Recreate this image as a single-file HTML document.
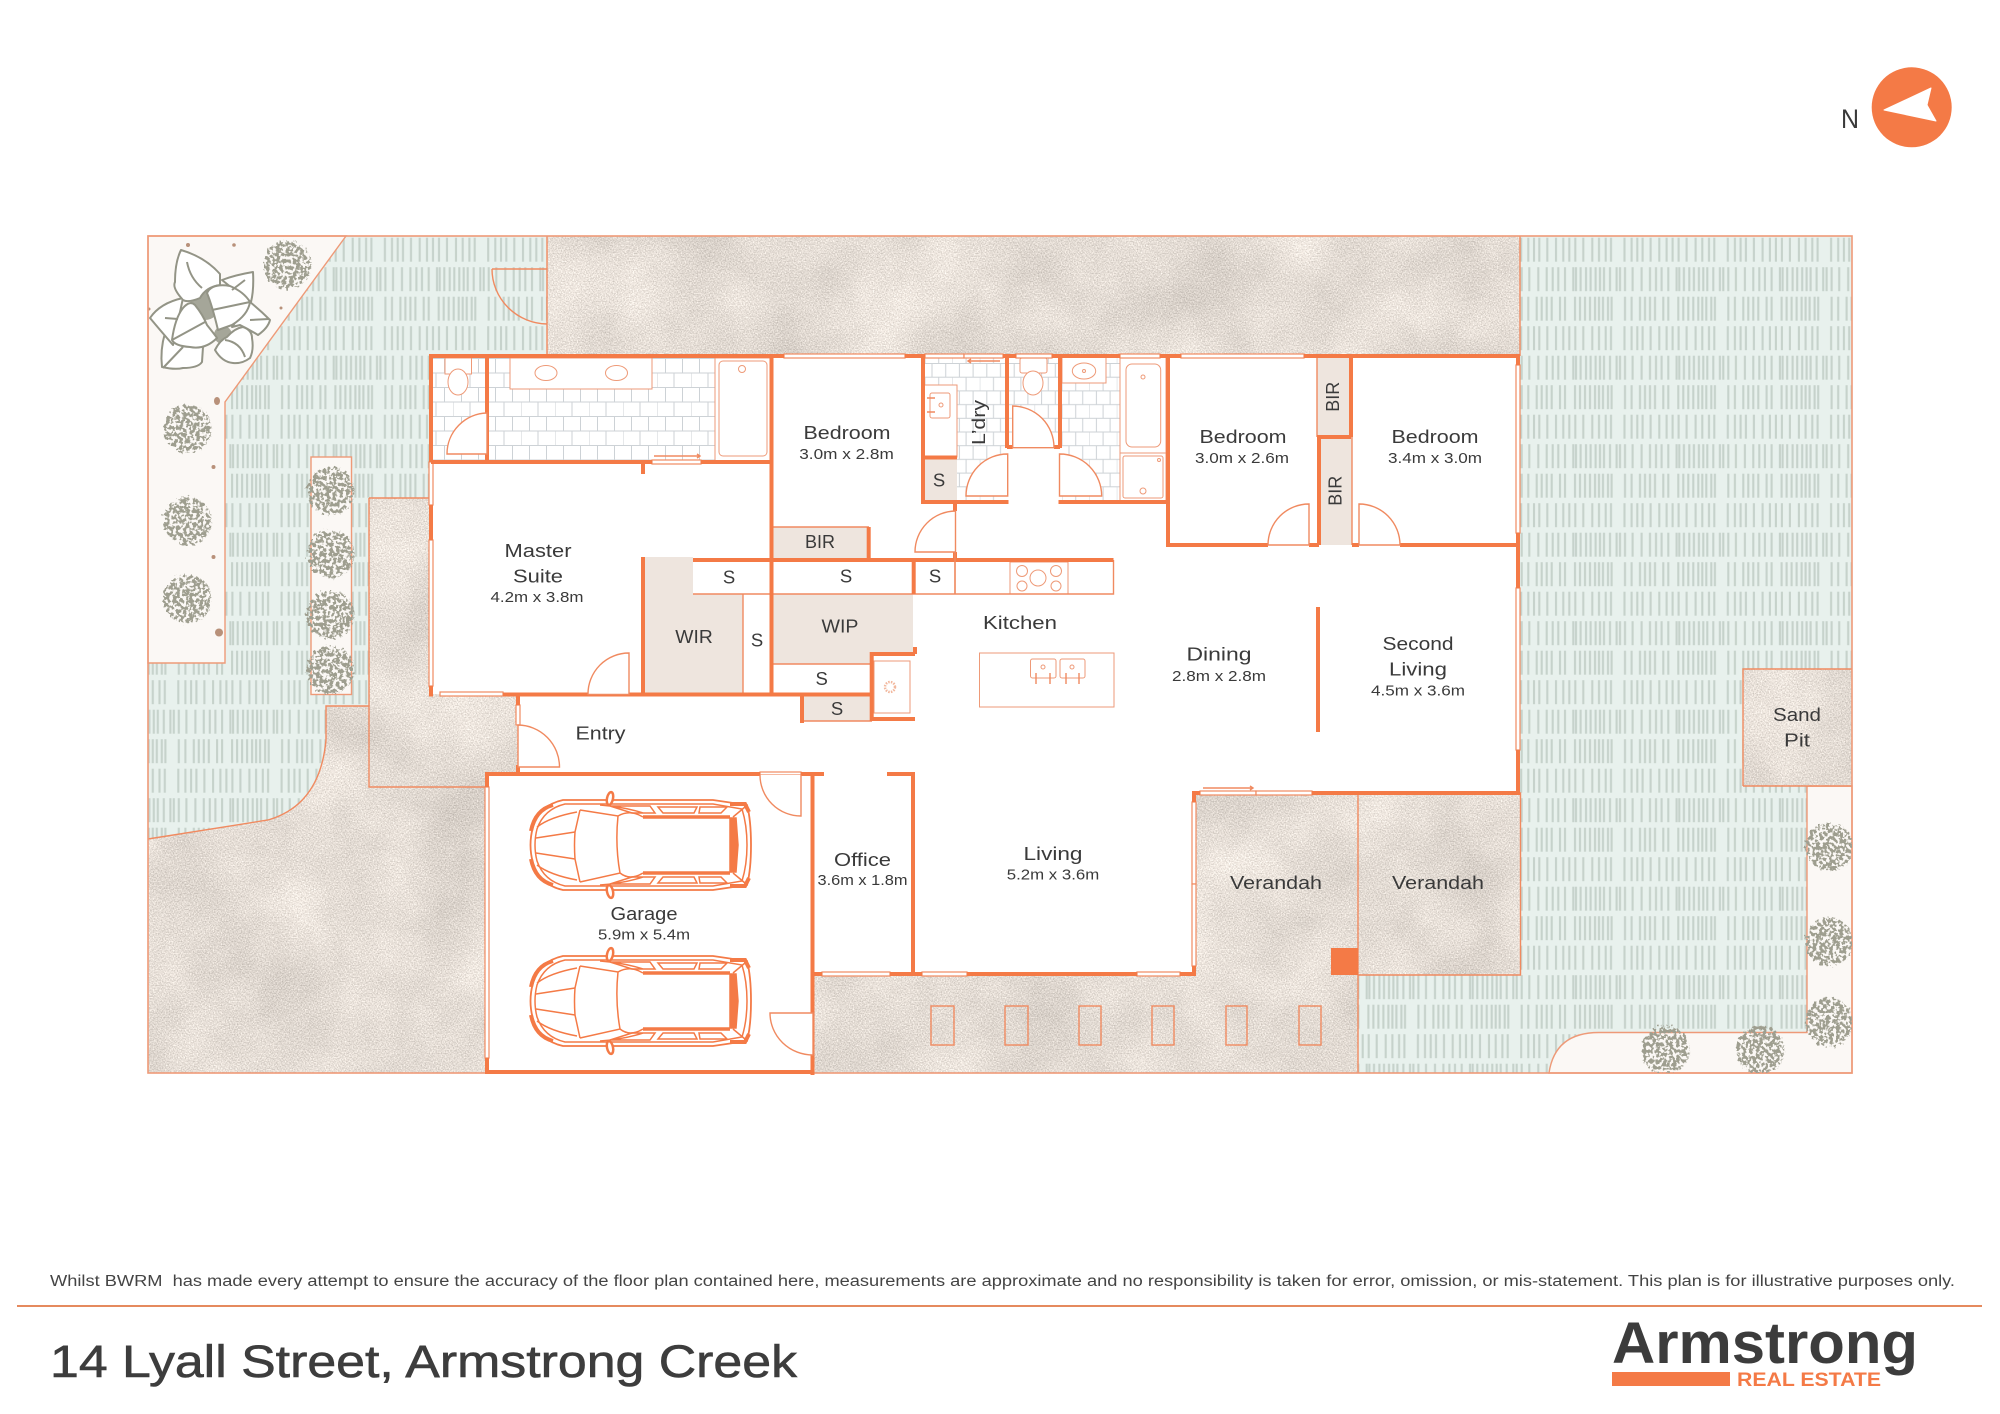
<!DOCTYPE html>
<html lang="en"><head><meta charset="utf-8"><title>14 Lyall Street, Armstrong Creek</title>
<style>html,body{margin:0;padding:0;background:#fff}svg{display:block}
text{font-family:"Liberation Sans",sans-serif;fill:#3a3a3a;text-anchor:middle;font-size:18.5px}
.s{font-size:14.5px}
.w{fill:none;stroke:#f47a46;stroke-width:4}
.n{fill:none;stroke:#f08a60;stroke-width:1.4}
.g{fill:#fff;stroke:#f08a60;stroke-width:1.2}
.f{fill:#fff;stroke:#ee9a78;stroke-width:1}
.b{fill:#eee5de}
</style></head><body>
<svg xmlns="http://www.w3.org/2000/svg" width="2000" height="1414" viewBox="0 0 2000 1414">
<defs>
<pattern id="grass" patternUnits="userSpaceOnUse" x="1623.3" y="236.7" width="103.3" height="88.5">
<rect width="103.3" height="88.5" fill="#e8f1ed"/>
<path fill="none" stroke="#c6d2cb" stroke-width="2.1" d="M1.2 1v24M8.3 1v24M14 1v24M19.3 1v24M27.3 1v24M36 1v24M43.3 1v24M49.3 1v24M55.3 1v24M63.3 1v24M72.3 1v24M79 1v24M85.7 1v24M91 1v24
M1.7 30.5v24M9.3 30.5v24M18.3 30.5v24M26.7 30.5v24M32.7 30.5v24M38.3 30.5v24M45 30.5v24M53.3 30.5v24M56 30.5v24M60.6 30.5v24M66 30.5v24M70.6 30.5v24M75.6 30.5v24M80 30.5v24M84 30.5v24M90 30.5v24M96.6 30.5v24M100 30.5v24
M1.7 60v24M8.3 60v24M16.7 60v24M21.7 60v24M26.7 60v24M31.7 60v24M40 60v24M45 60v24M55 60v24M60 60v24M65 60v24M70 60v24M75 60v24M79 60v24M83 60v24M88 60v24M91.6 60v24"/>
</pattern>
<pattern id="tile" patternUnits="userSpaceOnUse" x="487" y="358" width="34" height="29">
<rect width="34" height="29" fill="#fff"/>
<path fill="none" stroke="#cdd2d6" stroke-width="1" d="M0 .5H34M0 15H34M8.5 0V14.5M25.5 0V14.5M0 14.5V29M17 14.5V29"/>
</pattern>
<pattern id="tile2" patternUnits="userSpaceOnUse" x="925" y="363" width="27.4" height="27.4">
<rect width="27.4" height="27.4" fill="#fff"/>
<path fill="none" stroke="#cdd2d6" stroke-width="1" d="M0 .5H27.4M0 14.2H27.4M7 0V13.7M20.7 0V13.7M0 13.7V27.4M13.7 13.7V27.4"/>
</pattern>
<filter id="c" x="148" y="236" width="1704" height="837" filterUnits="userSpaceOnUse" color-interpolation-filters="sRGB">
<feTurbulence type="fractalNoise" baseFrequency=".012" numOctaves="4" seed="4"/>
<feColorMatrix values="1 0 0 0 0 1 0 0 0 0 1 0 0 0 0 0 0 0 0 1" result="a"/>
<feTurbulence type="fractalNoise" baseFrequency=".75" numOctaves="2" seed="7"/>
<feColorMatrix values="1 0 0 0 0 1 0 0 0 0 1 0 0 0 0 0 0 0 0 1" result="b"/>
<feComposite in="a" in2="b" operator="arithmetic" k2=".3" k3=".7"/>
<feColorMatrix values=".55 0 0 0 .62 .55 0 0 0 .59 .55 0 0 0 .56 0 0 0 0 1"/>
<feComposite in2="SourceGraphic" operator="in"/>
</filter>
<filter id="leaf" x="148" y="236" width="1704" height="837" filterUnits="userSpaceOnUse" color-interpolation-filters="sRGB">
<feTurbulence type="fractalNoise" baseFrequency=".3" numOctaves="2" seed="3" result="n"/>
<feDisplacementMap in="SourceGraphic" in2="n" scale="9" xChannelSelector="R" yChannelSelector="G" result="d"/>
<feColorMatrix in="n" values="0 0 0 0 .62 0 0 0 0 .62 0 0 0 0 .56 12 0 0 0 -5.3" result="m"/>
<feComposite in="m" in2="d" operator="in"/>
</filter>
<g id="car" fill="none" stroke="#f47a46" stroke-width="1.5">
<path stroke-width="1.8" d="M563-45H713L747-40Q751-25 751 0Q751 25 747 40L713 45H563Q540 40 533 18Q528 0 533-18Q540-40 563-45Z"/>
<path d="M565-41H713L742-36Q747-20 747 0Q747 20 742 36L713 41H565Q544 36 537 16Q533 0 537-16Q544-36 565-41Z"/>
<path d="M580-35L618-29Q630-36 643-28M580 37L620 28Q630 36 643 28M580-35L575-13Q574 0 575 14L580 37M618-29Q615 0 620 28"/>
<path stroke-width="3.6" d="M643-28H730M643 28H730"/>
<path d="M730-27L736-27L738 0L736 27L730 27Z" fill="#f47a46"/>
<path d="M536-7L575-13M536 8L575 14M537-18Q550-28 577-33M537 20Q550 30 577 35"/>
<path d="M600-40Q625-38 643-32M610-39H650L655-32H632ZM658-38H697L694-32H663ZM700-38H727L721-32H699ZM610 39H650L655 32H632ZM658 38H697L694 32H663ZM700 38H727L721 32H699ZM600 40Q625 38 643 32"/>
<path stroke-width="4" d="M531-14Q535-35 553-40M531 14Q535 35 553 40M730-41H745L749-33M730 41H745L749 33"/>
<path d="M733-28L745-38M733 28L745 38"/>
<ellipse cx="610" cy="-46.500" rx="3" ry="6.500" fill="#fff" stroke-width="2.500" transform="rotate(12 610 -46.500)"/><ellipse cx="610" cy="46.500" rx="3" ry="6.500" fill="#fff" stroke-width="2.500" transform="rotate(-12 610 46.500)"/>
</g>
</defs>
<rect width="2000" height="1414" fill="#fff"/>

<!-- site -->
<rect x="148" y="236" width="1704" height="837" fill="url(#grass)"/>
<path d="M148 236H346L225 402V663H148Z" fill="#fbf8f5" stroke="#ee9a78" stroke-width="1.4"/>
<rect x="311" y="457" width="40.5" height="237.5" fill="#fbf8f5" stroke="#ee9a78" stroke-width="1.4"/>
<path d="M1852 786H1807V1032.500H1600Q1555 1032 1549 1073H1852Z" fill="#fbf8f5" stroke="#ee9a78" stroke-width="1.4"/>
<g fill="#b8917a"><circle cx="188" cy="245" r="2"/><circle cx="234" cy="245" r="1.800"/><circle cx="281" cy="308" r="1.500"/><circle cx="149" cy="309" r="1.500"/><ellipse cx="217" cy="401" rx="3" ry="4"/><circle cx="213.500" cy="467" r="2"/><circle cx="213.500" cy="557" r="2"/><circle cx="219" cy="632.500" r="4"/></g>

<!-- concrete -->
<g filter="url(#c)">
<path d="M547 236H1520V358H547ZM1194 793H1520.500V975H1358V1073H812V975H1194ZM1743 669H1852V786H1743ZM148 1073V839L268 820Q320 805 326 740V706H369V498H431V694H518V773H487V1073Z" fill="#000"/>
</g>
<path class="n" d="M547 236V356M1520 236V356M1194 793H1520.500V975H1358M1358 793V1073M1743 786V669H1852M1743 786H1852M148 839L268 820Q320 805 326 740V706H369M369 498H431M369 498V787H487"/>
<rect x="148" y="236" width="1704" height="837" fill="none" stroke="#ee9a78" stroke-width="1.6"/>
<g><rect x="931" y="1006" width="23" height="39" class="n"/><rect x="1005" y="1006" width="23" height="39" class="n"/><rect x="1079" y="1006" width="22" height="39" class="n"/><rect x="1152" y="1006" width="22" height="39" class="n"/><rect x="1226" y="1006" width="21" height="39" class="n"/><rect x="1299" y="1006" width="22" height="39" class="n"/></g>

<!-- gate -->
<path class="n" d="M547 269H492M492 269A56 55 0 0 0 547 324"/>

<!-- plants -->
<g filter="url(#leaf)" fill="#000">
<circle cx="288" cy="265" r="24"/><circle cx="188" cy="429" r="24"/><circle cx="188" cy="521" r="24"/><circle cx="188" cy="599" r="24"/>
<circle cx="331" cy="491" r="24"/><circle cx="331" cy="554" r="24"/><circle cx="331" cy="615" r="24"/><circle cx="331" cy="670" r="24"/>
<circle cx="1830" cy="847" r="24"/><circle cx="1830" cy="942" r="24"/><circle cx="1830" cy="1022" r="24"/><circle cx="1666" cy="1050" r="24"/><circle cx="1761" cy="1050" r="24"/>
</g>
<circle cx="205" cy="305" r="15" fill="#a5a699"/><circle cx="223" cy="335" r="9" fill="#a5a699"/>
<g fill="#fff" stroke="#939486" stroke-width="2" stroke-linejoin="round">
<path d="M165 333Q160 350 162 367Q175 370 183 368Q198 368 202 362L203 347L172 340Z"/>
<path d="M150 318Q160 303 183 298L173 345Q160 330 150 318Z"/>
<path d="M222 280Q235 275 253 272Q254 290 251 302L232 288Z"/>
<path d="M270 320Q260 310 250 302L232 327L240 325Q250 330 258 335Q268 328 270 320Z"/>
<path d="M215 350Q220 340 227 337Q235 328 243 327Q252 330 252 338Q254 350 250 358Q242 364 233 363Q222 362 215 350Z"/>
<path d="M181 250Q205 257 220 274L220 285Q206 287 200 298Q188 303 183 300Q172 288 175 282Q175 262 181 250Z"/>
<path d="M207 293Q212 283 230 286Q244 292 250 302Q248 315 232 325L218 330Q212 305 207 293Z"/>
<path d="M172 340Q175 318 183 308Q190 300 195 305Q203 315 207 325Q215 335 217 338Q205 350 190 347Q175 346 172 340Z"/>
<path fill="none" d="M187 262Q190 278 202 288M172 340L205 322M163 368L183 347M232 290L245 280M250 320L269 319M225 340Q240 342 245 357M165 318L178 319M212 310L250 302"/>
</g>

<!-- house -->
<path d="M431 356H1518V793H1194V975H812V1072H487V773H518V694H431Z" fill="#fff"/>

<!-- tiles and fills -->
<rect x="433" y="358" width="54" height="103" fill="url(#tile)"/>
<rect x="487" y="358" width="228" height="103" fill="url(#tile)"/>
<rect x="925" y="358" width="82" height="143" fill="url(#tile2)"/>
<rect x="1009" y="358" width="50" height="90" fill="url(#tile2)"/>
<rect x="1061" y="358" width="59" height="143" fill="url(#tile2)"/>
<path class="b" d="M643 557H693V594H743V694H643Z"/>
<rect class="b" x="771.500" y="527" width="97" height="33"/>
<path class="b" d="M771.500 594H913V654H872V664H771.500Z"/>
<rect class="b" x="802" y="695" width="70" height="26"/>
<rect class="b" x="925" y="458" width="32" height="45"/>
<rect class="b" x="1317" y="358" width="34" height="79"/>
<rect class="b" x="1319" y="437" width="33" height="108"/>

<!-- thin fixtures -->
<rect class="f" x="510" y="358" width="142" height="31"/>
<ellipse class="f" cx="546" cy="373" rx="11" ry="7.500"/><ellipse class="f" cx="616.500" cy="373" rx="11" ry="7.500"/>
<rect class="f" x="715" y="358" width="56" height="103"/><rect class="f" x="719" y="361" width="48" height="95" rx="4"/>
<circle class="f" cx="742" cy="369" r="3.500"/>
<rect class="f" x="445" y="358" width="26.500" height="16"/><ellipse class="f" cx="458" cy="382" rx="10" ry="13"/>
<rect class="f" x="1062" y="357" width="44" height="26"/><ellipse class="f" cx="1084" cy="371" rx="11.700" ry="8"/><circle class="f" cx="1084" cy="371" r="1.500"/>
<rect class="f" x="1120" y="357" width="46" height="96"/><rect class="f" x="1126" y="364" width="34.700" height="83" rx="6"/><circle class="f" cx="1143" cy="377" r="2"/>
<rect class="f" x="1120" y="453" width="46" height="48"/><rect class="f" x="1123" y="456" width="40" height="42" rx="2"/><circle class="f" cx="1143" cy="491" r="3"/><circle class="f" cx="1159" cy="460" r="1.500"/>
<rect class="f" x="924" y="385" width="33" height="72"/><rect class="f" x="930" y="393" width="20" height="25" rx="2"/><circle class="f" cx="941" cy="405" r="2"/><path class="n" d="M927 398H935M927 412H935"/>
<rect class="f" x="1020" y="358" width="27" height="15" rx="2"/><ellipse class="f" cx="1033" cy="383" rx="10" ry="12"/>
<rect class="f" x="979.500" y="653" width="134.500" height="54"/>
<rect class="f" x="1030.500" y="659" width="25.500" height="19" rx="2"/><rect class="f" x="1060" y="659" width="25" height="19" rx="2"/>
<circle class="f" cx="1043" cy="667" r="2"/><circle class="f" cx="1072" cy="667" r="2"/><path class="n" d="M1036 673V684M1050 673V684M1066 673V684M1079 673V684"/>
<rect class="f" x="1010" y="562" width="58" height="32"/>
<circle class="f" cx="1038" cy="578" r="8"/><circle class="f" cx="1022" cy="571" r="5.500"/><circle class="f" cx="1056" cy="571" r="5.500"/><circle class="f" cx="1022" cy="586" r="5"/><circle class="f" cx="1056" cy="586" r="5"/>
<rect class="f" x="874" y="661" width="36" height="52"/><circle cx="890" cy="687" r="5" fill="none" stroke="#f2b89e" stroke-width="2.500" stroke-dasharray="1.500 1.200"/>
<path class="n" d="M693 594H1113.500V560M955 560V594M743 594V694M771.500 664H872M802 721H872M771.500 527H869M1317 356V437M1352 437V545"/>

<!-- windows -->
<g>
<rect x="784" y="354" width="121" height="4" class="g"/><rect x="925" y="354" width="39" height="4" class="g"/><rect x="964" y="354" width="39" height="4" class="g"/><rect x="1016" y="354" width="36" height="4" class="g"/><rect x="1120" y="354" width="40" height="4" class="g"/><rect x="1181" y="354" width="123" height="4" class="g"/>
<rect x="652" y="460" width="49" height="4" class="g"/>
<rect x="429" y="462" width="4" height="43" class="g"/><rect x="429" y="540" width="4" height="146" class="g"/>
<rect x="440" y="692" width="63" height="4" class="g"/>
<rect x="516" y="705" width="4" height="20" class="g"/>
<rect x="1516" y="365" width="4" height="168" class="g"/><rect x="1516" y="588" width="4" height="162" class="g"/>
<rect x="1200" y="791" width="56" height="4" class="g"/><rect x="1256" y="791" width="56" height="4" class="g"/>
<rect x="1192" y="802" width="4" height="82" class="g"/><rect x="1192" y="884" width="4" height="82" class="g"/>
<rect x="1137" y="972" width="43" height="4" class="g"/><rect x="922" y="972" width="45" height="4" class="g"/><rect x="822" y="972" width="68" height="4" class="g"/>
<rect x="485" y="787" width="4" height="271" class="g"/>
<rect x="760" y="772" width="41" height="3" class="g"/>
</g>

<!-- walls -->
<path class="w" d="M431 356H784M905 356H925M1003 356H1016M1052 356H1120M1160 356H1181M1304 356H1520
M431 354V462M431 505V540M431 686V696.500M431 462H652M701 462H771.500M487 356V462M643 462V474
M771.500 356V694M643 557V696M693 560H1113.500M503 694.500H871M913.700 560V594M868.700 527V560
M923 356V503M923 457.500H957M921 502H1008.500M1007 356V448M1060 356V448M1058.500 502H1168M955 502V511M955 552V560M1007 447H1012.700M1054 447H1060
M1168 356V547M1168 545H1268M1309 545H1319M1352 545H1359M1400 545H1520
M1319 437V545M1351 356V437M1317 437H1351
M1518 356V365M1518 533V588M1518 750V795M1312 793H1518M1192 793H1200M1194 793V802M1194 966V975
M1318 607V732
M871.700 652V721M870 654H915M915 647V654M802 693V723M871 719H915
M518 694V705M518 765V775M486 774H760M801 774H824M887 774H915M913 772V976M812.500 774V1075M485 1072H814M487 772V787M487 1058V1074
M812 974H822M890 974H922M967 974H1137M1180 974H1196"/>
<rect x="1331" y="948" width="27" height="27" fill="#f47a46"/>

<!-- doors -->
<path class="n" d="M487 413A41 41 0 0 0 447 454H487ZM1007.700 454A41.500 42 0 0 0 966 496H1007.700ZM1059.500 454A42 42 0 0 1 1101.700 496H1059.500ZM1012.700 406A41.500 41.500 0 0 1 1054 447.700H1012.700ZM955.500 511A41 41 0 0 0 915 552H955.500ZM1309 504A41 41 0 0 0 1268 545H1309ZM1359 504A41 41 0 0 1 1400 545H1359ZM629 653A41 41 0 0 0 588 694.500H629ZM518 725A42 42 0 0 1 559.500 767H518ZM760 775A41 41 0 0 0 801 816V775M770 1013H813V1055A43 42 0 0 1 770 1013ZM955 552V594" style="fill:#fff"/>
<path class="n" stroke-width="1" d="M654 456H700M697 454L700 456L697 458M1000 361H968M971 359L968 361L971 363M1203 788H1253M1250 786L1253 788L1250 790"/>

<!-- cars -->
<use href="#car" y="845"/><use href="#car" y="1001"/>

<!-- labels -->
<text x="847" y="439" textLength="87" lengthAdjust="spacingAndGlyphs">Bedroom</text>
<text class="s" x="846.500" y="459" textLength="94.500" lengthAdjust="spacingAndGlyphs">3.0m x 2.8m</text>
<text x="1243" y="443" textLength="87" lengthAdjust="spacingAndGlyphs">Bedroom</text>
<text class="s" x="1242" y="463" textLength="94" lengthAdjust="spacingAndGlyphs">3.0m x 2.6m</text>
<text x="1435" y="443" textLength="87" lengthAdjust="spacingAndGlyphs">Bedroom</text>
<text class="s" x="1435" y="463" textLength="94" lengthAdjust="spacingAndGlyphs">3.4m x 3.0m</text>
<text transform="translate(1339 396.700) rotate(-90)" textLength="30" lengthAdjust="spacingAndGlyphs">BIR</text>
<text transform="translate(1341.500 490.700) rotate(-90)" textLength="30" lengthAdjust="spacingAndGlyphs">BIR</text>
<text transform="translate(985 422.500) rotate(-90)" textLength="45" lengthAdjust="spacingAndGlyphs">L’dry</text>
<text x="939" y="486.500">S</text>
<text x="820" y="548" textLength="30" lengthAdjust="spacingAndGlyphs">BIR</text>
<text x="846" y="582.700">S</text><text x="935" y="582.700">S</text>
<text x="840" y="632.700" textLength="37" lengthAdjust="spacingAndGlyphs">WIP</text>
<text x="821.700" y="685">S</text><text x="837" y="715">S</text>
<text x="1020" y="629" textLength="74" lengthAdjust="spacingAndGlyphs">Kitchen</text>
<text x="1219" y="660.700" textLength="65" lengthAdjust="spacingAndGlyphs">Dining</text>
<text class="s" x="1219" y="681" textLength="94" lengthAdjust="spacingAndGlyphs">2.8m x 2.8m</text>
<text x="1418" y="650" textLength="71" lengthAdjust="spacingAndGlyphs">Second</text>
<text x="1418" y="675.700" textLength="58" lengthAdjust="spacingAndGlyphs">Living</text>
<text class="s" x="1418" y="695.700" textLength="94" lengthAdjust="spacingAndGlyphs">4.5m x 3.6m</text>
<text x="538" y="556.800" textLength="67" lengthAdjust="spacingAndGlyphs">Master</text>
<text x="538" y="582.400" textLength="50" lengthAdjust="spacingAndGlyphs">Suite</text>
<text class="s" x="537" y="602" textLength="93" lengthAdjust="spacingAndGlyphs">4.2m x 3.8m</text>
<text x="694" y="643" textLength="37.500" lengthAdjust="spacingAndGlyphs">WIR</text>
<text x="729" y="583.600">S</text><text x="757" y="646.700">S</text>
<text x="600.500" y="739.700" textLength="50" lengthAdjust="spacingAndGlyphs">Entry</text>
<text x="644" y="920" textLength="67" lengthAdjust="spacingAndGlyphs">Garage</text>
<text class="s" x="644" y="939.300" textLength="92" lengthAdjust="spacingAndGlyphs">5.9m x 5.4m</text>
<text x="862.500" y="866" textLength="57" lengthAdjust="spacingAndGlyphs">Office</text>
<text class="s" x="862.500" y="885" textLength="90" lengthAdjust="spacingAndGlyphs">3.6m x 1.8m</text>
<text x="1053" y="860" textLength="59" lengthAdjust="spacingAndGlyphs">Living</text>
<text class="s" x="1053" y="879.300" textLength="92.500" lengthAdjust="spacingAndGlyphs">5.2m x 3.6m</text>
<text x="1276" y="889" textLength="92" lengthAdjust="spacingAndGlyphs">Verandah</text>
<text x="1438" y="889" textLength="92" lengthAdjust="spacingAndGlyphs">Verandah</text>
<text x="1797" y="721" textLength="48" lengthAdjust="spacingAndGlyphs">Sand</text>
<text x="1797" y="746.700" textLength="26" lengthAdjust="spacingAndGlyphs">Pit</text>

<!-- north -->
<circle cx="1911.700" cy="107.300" r="40" fill="#f47a46"/>
<path d="M1884 110L1931 88L1927 105L1936 121Z" fill="#fff" stroke="#fff" stroke-width="1" stroke-linejoin="round"/>
<text x="1850" y="128" style="font-size:27px" textLength="18" lengthAdjust="spacingAndGlyphs">N</text>

<!-- footer -->
<text x="50" y="1286" style="font-size:15.5px;text-anchor:start;fill:#444" textLength="1905" lengthAdjust="spacingAndGlyphs" xml:space="preserve">Whilst BWRM  has made every attempt to ensure the accuracy of the floor plan contained here, measurements are approximate and no responsibility is taken for error, omission, or mis-statement. This plan is for illustrative purposes only.</text>
<rect x="17" y="1305" width="1965" height="2" fill="#e58a5e"/>
<text x="50" y="1377" style="font-size:45px;text-anchor:start;fill:#3d3d3d" stroke="#3d3d3d" stroke-width=".6" textLength="747" lengthAdjust="spacingAndGlyphs">14 Lyall Street, Armstrong Creek</text>
<text x="1612" y="1363" style="font-size:58px;font-weight:bold;text-anchor:start;fill:#3c3c3c" textLength="306" lengthAdjust="spacingAndGlyphs">Armstrong</text>
<rect x="1612" y="1372" width="118" height="14" fill="#f47a46"/>
<text x="1737" y="1386" style="font-size:19px;font-weight:bold;text-anchor:start;fill:#f47a46" textLength="144" lengthAdjust="spacingAndGlyphs">REAL ESTATE</text>
</svg>
</body></html>
